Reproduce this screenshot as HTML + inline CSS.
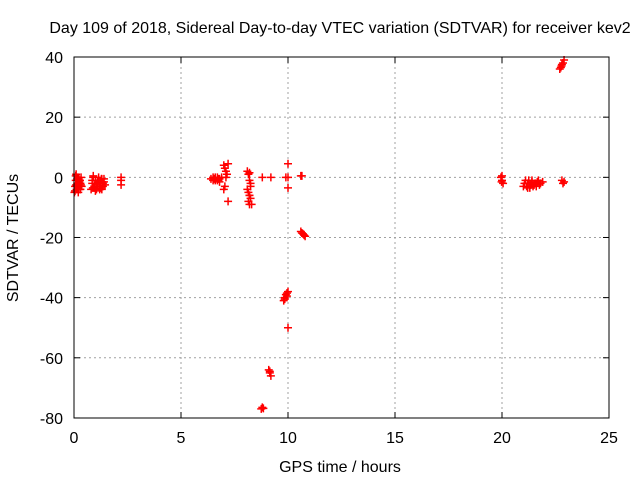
<!DOCTYPE html>
<html><head><meta charset="utf-8"><style>
body{margin:0;background:#fff;}
svg{display:block;font-family:"Liberation Sans",sans-serif;}
</style></head><body>
<svg id="chart" width="640" height="480">
<text x="340" y="33" font-size="16" text-anchor="middle">Day 109 of 2018, Sidereal Day-to-day VTEC variation (SDTVAR) for receiver kev2</text>
<text x="340" y="472" font-size="16" text-anchor="middle">GPS time / hours</text>
<text transform="translate(18,238) rotate(-90)" font-size="16" text-anchor="middle">SDTVAR / TECUs</text>
<g id="grid"></g><g id="ticks"></g><g id="pts"></g>
<rect x="74" y="57" width="535" height="361" fill="none" stroke="#000" stroke-width="1"/>
</svg>
<script>
const xTicks=[0,5,10,15,20,25];
const yTicks=[40,20,0,-20,-40,-60,-80];
const xs=[0.02,0.05,0.08,0.1,0.12,0.15,0.18,0.2,0.22,0.25,0.28,0.3,0.33,0.36,0.05,0.1,0.15,0.2,0.25,0.3,0.08,0.18,0.28,0.12,0.22,0.32,
0.8,0.85,0.9,0.95,1.0,1.05,1.1,1.15,1.2,1.25,1.3,1.35,1.4,1.45,0.85,0.95,1.05,1.15,1.25,1.35,0.9,1.0,1.1,1.2,1.3,1.4,0.88,1.08,1.28,
2.2,2.2,2.2,
6.4,6.5,6.6,6.7,6.8,6.9,6.5,6.6,6.7,6.8,6.55,6.75,
7.0,7.05,7.1,7.15,7.2,7.0,7.05,7.1,7.2,
8.1,8.15,8.2,8.25,8.1,8.15,8.2,8.25,8.15,8.2,8.25,8.2,8.3,8.2,
8.8,9.2,9.9,10.0,10.0,10.0,10.6,10.65,
10.6,10.65,10.7,10.75,10.8,
9.8,9.85,9.9,9.95,10.0,9.85,9.95,10.0,
9.1,9.15,9.2,9.15,8.75,8.8,8.85,
19.95,20.0,20.05,20.0,19.98,
21.0,21.1,21.2,21.3,21.4,21.5,21.6,21.7,21.8,21.9,21.05,21.15,21.25,21.35,21.45,21.55,21.65,21.75,21.2,21.4,21.6,21.3,
22.8,22.85,22.9,
22.7,22.75,22.8,22.85,22.9,22.78];
const ys=[-5,-3,-1,1,-4,-2,0,-5,-3,-1,-4,-2,0,-3,-4.5,-2.5,-0.5,-3.5,-1.5,-4,0.5,-2,-1,-3,-0.5,-2.5,
-4,-2,0,-3.5,-1,-4,-2.5,0,-3,-1.5,-4,-2,-0.5,-2.5,-1,-3,-2,-1,-3.5,-3,0.5,-4.5,-1.5,-4,-0.5,-1.5,-3.5,-2,-0.5,
-2.5,-1,0,
-0.5,-1,0,-1,-0.5,0,0,-1,0,-1.5,-0.5,-0.5,
4,3,2,1,-8,-4,-3,0,4.5,
2,1,-1,-2,-4,-5,-6,-7,-8,-9,-3,-6,-9,1.5,
0,0,0,4.5,-3.5,0,0.5,0.5,
-18,-18.5,-18.8,-19.2,-19.6,
-41,-40,-39,-38.5,-38,-40.5,-39.5,-50,
-64,-65,-66,-64.5,-77,-76.5,-76.8,
0,-1,-2,0.5,-1.5,
-3,-1,-2,-3.5,-1.5,-2.5,-3,-1,-2,-1.5,-2,-3,-1,-2.5,-3,-2,-1.5,-2.5,-3.5,-1,-2.5,-3,
-1,-2,-1.5,
36,36.5,37.5,38,39,37];
const X=h=>74+h*21.4, Y=v=>57+(40-v)*3.008;
const NS="http://www.w3.org/2000/svg";
const g=document.getElementById('grid'),t=document.getElementById('ticks'),p=document.getElementById('pts');
function mk(tag,a,par){const e=document.createElementNS(NS,tag);for(const k in a)e.setAttribute(k,a[k]);par.appendChild(e);return e;}
xTicks.forEach(v=>{
 if(v>0&&v<25){const l=mk('line',{x1:X(v),x2:X(v),y1:57,y2:418,stroke:'#a0a0a0','stroke-dasharray':'2,3'},g);
 
 }
 mk('line',{x1:X(v),x2:X(v),y1:418,y2:412,stroke:'#000'},t);
 mk('line',{x1:X(v),x2:X(v),y1:57,y2:63,stroke:'#000'},t);
 const tx=mk('text',{x:X(v),y:443,'font-size':16,'text-anchor':'middle'},t);tx.textContent=v;
 
 
});
yTicks.forEach(v=>{
 if(v<40&&v>-80){const l=mk('line',{x1:74,x2:609,y1:Y(v),y2:Y(v),stroke:'#a0a0a0','stroke-dasharray':'2,3'},g);
 
 }
 mk('line',{x1:74,x2:80,y1:Y(v),y2:Y(v),stroke:'#000'},t);
 mk('line',{x1:609,x2:603,y1:Y(v),y2:Y(v),stroke:'#000'},t);
 const tx=mk('text',{x:63,y:Y(v)+6,'font-size':16,'text-anchor':'end'},t);tx.textContent=v;
 
 
});
xs.forEach((h,i)=>{
 const cx=X(h),cy=Y(ys[i]);
 const e=mk('path',{d:`M${cx-4},${cy}h8M${cx},${cy-4}v8`,stroke:'#ff0000','stroke-width':1.5,fill:'none'},p);
 
 
});
</script>
</body></html>
